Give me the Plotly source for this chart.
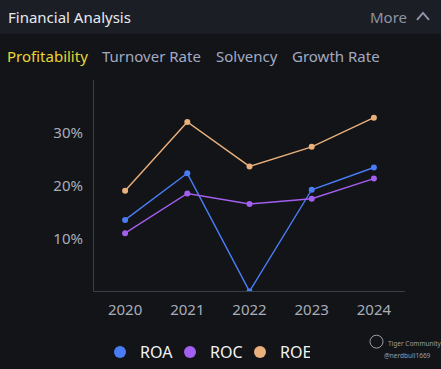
import plotly.graph_objects as go

years = ["2020", "2021", "2022", "2023", "2024"]
roa = [13.5, 22.3, 0.0, 19.2, 23.4]
roc = [11.0, 18.5, 16.5, 17.5, 21.3]
roe = [19.0, 32.0, 23.6, 27.3, 32.8]
y_ticks = [10, 20, 30]
y_tick_labels = ["10%", "20%", "30%"]
series_names = ["ROA", "ROC", "ROE"]
series_colors = ["#4a7cf6", "#a35ff0", "#eab07c"]

W, H = 441, 369
BG = "#121418"
HEADER_BG = "#1b1e25"
FONT = "Noto Sans"

fig = go.Figure()
for name, vals, col in zip(series_names, [roa, roc, roe], series_colors):
    fig.add_trace(go.Scatter(
        x=years, y=vals, mode="lines+markers", name=name,
        line=dict(color=col, width=1.4),
        marker=dict(color=col, size=6),
        showlegend=False, legendgroup=name, hoverinfo="x+y+name",
    ))
for name, col in zip(series_names, series_colors):
    fig.add_trace(go.Scatter(
        x=[None], y=[None], mode="markers", name=name,
        marker=dict(color=col, size=12), legendgroup=name, showlegend=True,
    ))

def px(x):
    return x / W

def py(y):
    return 1 - y / H

fig.update_layout(
    width=W, height=H,
    margin=dict(l=0, r=0, t=0, b=0),
    paper_bgcolor=BG, plot_bgcolor=BG,
    font=dict(family=FONT, color="#a9adb8", size=14),
    xaxis=dict(
        domain=[px(94), px(405)], type="category", range=[-0.5, 4.5],
        showgrid=False, zeroline=False, showline=True, linecolor="#3a3e48", linewidth=1,
        ticks="", tickfont=dict(size=15, color="#a9adb8", family=FONT), ticklabelstandoff=5,
        fixedrange=True,
    ),
    yaxis=dict(
        domain=[py(293), py(80)], range=[0, 40],
        tickvals=y_ticks, ticktext=y_tick_labels,
        showgrid=False, zeroline=False, showline=True, linecolor="#3a3e48", linewidth=1,
        ticks="", tickfont=dict(size=15, color="#a9adb8", family=FONT), ticklabelstandoff=7,
        fixedrange=True,
    ),
    legend=dict(
        orientation="h", x=px(205), xanchor="center", y=py(354), yanchor="middle",
        font=dict(size=16, color="#f2f2f2", family=FONT),
        bgcolor="rgba(0,0,0,0)", itemclick=False, itemdoubleclick=False,
        entrywidth=25, entrywidthmode="pixels",
    ),
    shapes=[
        dict(type="rect", xref="paper", yref="paper", x0=0, x1=1, y0=py(34), y1=1,
             fillcolor=HEADER_BG, line=dict(width=0), layer="below"),
        dict(type="path", xref="paper", yref="paper",
             path=f"M {px(417)},{py(20)} L {px(423)},{py(13)} L {px(429)},{py(20)}",
             line=dict(color="#8e94a4", width=2)),
        dict(type="circle", xref="paper", yref="paper",
             x0=px(370), x1=px(383), y0=py(350), y1=py(337),
             line=dict(color="#9a9ea8", width=1)),
    ],
    annotations=[
        dict(text="Financial Analysis", x=px(6), y=py(17), xref="paper", yref="paper",
             xanchor="left", yanchor="middle", showarrow=False,
             font=dict(size=15, color="#e8eaf0", family=FONT)),
        dict(text="More", x=px(409), y=py(17), xref="paper", yref="paper",
             xanchor="right", yanchor="middle", showarrow=False,
             font=dict(size=15, color="#8e94a4", family=FONT)),
        dict(text="Profitability", x=px(5), y=py(56), xref="paper", yref="paper",
             xanchor="left", yanchor="middle", showarrow=False,
             font=dict(size=15, color="#e9d637", family=FONT)),
        dict(text="Turnover Rate", x=px(100), y=py(56), xref="paper", yref="paper",
             xanchor="left", yanchor="middle", showarrow=False,
             font=dict(size=15, color="#a3aac2", family=FONT)),
        dict(text="Solvency", x=px(214), y=py(56), xref="paper", yref="paper",
             xanchor="left", yanchor="middle", showarrow=False,
             font=dict(size=15, color="#a3aac2", family=FONT)),
        dict(text="Growth Rate", x=px(290), y=py(56), xref="paper", yref="paper",
             xanchor="left", yanchor="middle", showarrow=False,
             font=dict(size=15, color="#a3aac2", family=FONT)),
        dict(text="Tiger Community", x=px(386), y=py(345), xref="paper", yref="paper",
             xanchor="left", yanchor="middle", showarrow=False,
             font=dict(size=6.5, color="#9a9ea8", family=FONT)),
        dict(text="@nerdbull1669", x=px(433), y=py(357), xref="paper", yref="paper",
             xanchor="right", yanchor="middle", showarrow=False,
             font=dict(size=6.5, color="#9a9ea8", family=FONT)),
    ],
)

fig.write_html(
    "out.html",
    config={"displayModeBar": False},
    post_script="document.body.style.margin='0';document.body.style.overflow='hidden';document.body.style.background='#121418';",
)
